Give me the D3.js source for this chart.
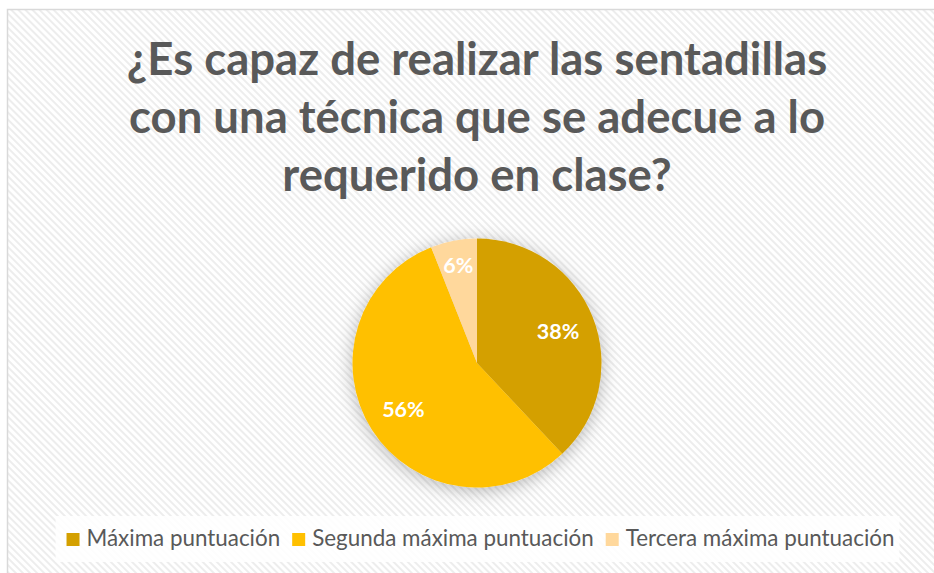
<!DOCTYPE html>
<html>
<head>
<meta charset="utf-8">
<script src="https://cdn.jsdelivr.net/npm/d3@7"></script>
<style>
  html, body { margin: 0; padding: 0; background: #ffffff; }
  svg { display: block; }
</style>
</head>
<body>
<svg id="chart" width="934" height="573"></svg>
<script>
// Survey answers and their shares (percent)
const categories = ["Máxima puntuación", "Segunda máxima puntuación", "Tercera máxima puntuación"];
const values = [38, 56, 6];
const sliceColors = ["#D4A000", "#FFC000", "#FFD89C"];
const titleLines = [
  "¿Es capaz de realizar las sentadillas",
  "con una técnica que se adecue a lo",
  "requerido en clase?"
];

const W = 934, H = 573;
const svg = d3.select("#chart");
const defs = svg.append("defs");

// Diagonal hatch fill for the chart area
const hatch = defs.append("pattern")
  .attr("id", "hatch")
  .attr("patternUnits", "userSpaceOnUse")
  .attr("width", 5).attr("height", 5)
  .attr("patternTransform", "rotate(-45)");
hatch.append("rect").attr("width", 5).attr("height", 5).attr("fill", "#ffffff");
hatch.append("rect").attr("x", 0).attr("width", 2).attr("height", 5).attr("fill", "#ededed");

// Soft shadow under the pie
const shadow = defs.append("filter")
  .attr("id", "pieShadow")
  .attr("x", "-30%").attr("y", "-30%").attr("width", "160%").attr("height", "160%");
shadow.append("feDropShadow")
  .attr("dx", 0).attr("dy", 3)
  .attr("stdDeviation", 9)
  .attr("flood-color", "#000000")
  .attr("flood-opacity", 0.28);

// Chart area
svg.append("rect")
  .attr("x", 7.5).attr("y", 9.5)
  .attr("width", W + 20).attr("height", H + 20)
  .attr("fill", "url(#hatch)")
  .attr("stroke", "#d9d9d9")
  .attr("stroke-width", 1.5);

// Title
const fontFamily = "Lato, 'Open Sans', sans-serif";
const title = svg.append("text")
  .attr("text-anchor", "middle")
  .attr("font-family", fontFamily)
  .attr("font-weight", 700)
  .attr("font-size", 45.5)
  .attr("fill", "#595959");
title.selectAll("tspan")
  .data(titleLines)
  .join("tspan")
  .attr("x", 477)
  .attr("y", (d, i) => 75 + i * 58)
  .text(d => d);

// Pie
const cx = 477, cy = 363, r = 124.5;
const pie = d3.pie().sort(null).value(d => d.value);
const arcs = pie(categories.map((c, i) => ({ name: c, value: values[i] })));
const arc = d3.arc().innerRadius(0).outerRadius(r);

const g = svg.append("g").attr("transform", `translate(${cx},${cy})`);
g.append("g")
  .attr("filter", "url(#pieShadow)")
  .selectAll("path")
  .data(arcs)
  .join("path")
  .attr("d", arc)
  .attr("fill", (d, i) => sliceColors[i]);

// Percentage labels inside slices
const labelRadius = [0.70, 0.70, 0.80];
g.selectAll("text.pct")
  .data(arcs)
  .join("text")
  .attr("class", "pct")
  .attr("transform", (d, i) => {
    const a = (d.startAngle + d.endAngle) / 2;
    const rr = r * labelRadius[i];
    return `translate(${rr * Math.sin(a)},${-rr * Math.cos(a)})`;
  })
  .attr("text-anchor", "middle")
  .attr("dy", "0.36em")
  .attr("font-family", fontFamily)
  .attr("font-weight", 700)
  .attr("font-size", 21.5)
  .attr("fill", "#ffffff")
  .text(d => d.data.value + "%");

// Legend
const legendBox = svg.append("rect")
  .attr("fill", "#ffffff").attr("fill-opacity", 0.85);
const legend = svg.append("g");
const items = legend.selectAll("g")
  .data(categories)
  .join("g");
items.append("rect")
  .attr("width", 13).attr("height", 13)
  .attr("y", -13)
  .attr("fill", (d, i) => sliceColors[i]);
items.append("text")
  .attr("x", 20)
  .attr("font-family", fontFamily)
  .attr("font-size", 22.4)
  .attr("fill", "#595959")
  .text(d => d);

let xPos = 0;
items.each(function () {
  const w = d3.select(this).select("text").node().getComputedTextLength();
  d3.select(this).attr("transform", `translate(${xPos},0)`);
  xPos += 20 + w + 12;
});
const totalW = xPos - 12;
const lx = 480.5 - totalW / 2, ly = 546;
legend.attr("transform", `translate(${lx},${ly})`);
legendBox.attr("x", lx - 11).attr("y", 516).attr("width", totalW + 16).attr("height", 46);
</script>
</body>
</html>
